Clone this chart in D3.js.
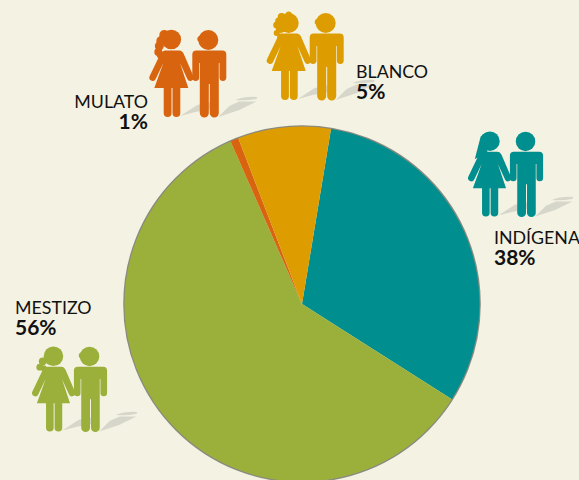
<!DOCTYPE html>
<html><head><meta charset="utf-8">
<script src="https://cdn.jsdelivr.net/npm/d3@7"></script>
<style>html,body{margin:0;padding:0;background:#f4f2e2;overflow:hidden}svg{display:block}text{font-family:Lato,"Open Sans",sans-serif;fill:#111}</style>
</head><body><svg id="c" width="579" height="480"></svg>
<script>
const categories = ["INDÍGENA","MESTIZO","MULATO","BLANCO"];
const sliceShares = [31.4,59.4,0.75,8.45];
const labelPercents = ["38%","56%","1%","5%"];
const colors = ["#008f8e","#9ab03a","#d96410","#dd9c00"];
const startDeg = 9.4;
const labelX = [494,15,148,356];
const labelY = [244,314,108,78];
const labelAnchor = ["start","start","end","start"];
const coupleX = [526.5,90.5,209.3,326.7];
const coupleY = [131.7,346.7,30,13];
const coupleScale = [0.975,0.975,1,1];
const hairStyle = ["long","pony","curly","wild"];

const svg = d3.select("#c");
const W=579,H=480;
svg.append("rect").attr("width",W).attr("height",H).attr("fill","#f4f2e2");

const pie = d3.pie().sort(null).value(d=>d)
  .startAngle(startDeg*Math.PI/180).endAngle((startDeg+360)*Math.PI/180);
const arc = d3.arc().innerRadius(0).outerRadius(177.5);
const g = svg.append("g").attr("transform","translate(302,304)");
g.append("circle").attr("r",177.8).attr("fill","none").attr("stroke","#8a8a80").attr("stroke-width",2);
g.selectAll("path").data(pie(sliceShares)).join("path").attr("d",arc).attr("fill",(d,i)=>colors[i]);

const manPath="M-13,20.5H13Q17,20.5 17,24.5V47.5A3.4,3.4 0 0 1 10.2,47.5V33H9.5V83A4.5,4.5 0 0 1 0.5,83V54H-0.5V83A4.5,4.5 0 0 1 -9.5,83V33H-10.2V47.5A3.4,3.4 0 0 1 -17,47.5V24.5Q-17,20.5 -13,20.5Z";
const womanPath="M-44,20.5H-30Q-27,20.5 -25.5,24L-16,46A3.3,3.3 0 0 1 -22,49L-29.3,33L-21,58H-29V83A3.9,3.9 0 0 1 -36.8,83V58H-37.8V83A3.9,3.9 0 0 1 -45.6,83V58H-55L-46,33L-53.6,49A3.3,3.3 0 0 1 -59.6,46L-49,24Q-47,20.5 -44,20.5Z";
const hair={
 long:[[-37.5,9.7,10]],
 pony:[[-38,9.8,10],[-49,15,4],[-52,21,3.5],[-48,22,3]],
 curly:[[-38,9.5,9.8],[-45,5,5],[-48,11,5],[-50,16,4.5],[-51,22,4],[-49,25,3.5]],
 wild:[[-38,10,10],[-45,4,4],[-48,8,3.5],[-50,12,3.5],[-46,15,5],[-50,20,3],[-46,24,3.5],[-38,1.5,3]]
};
const hairDrape={long:"M-42,1L-47,5L-53,28L-40,22Z",pony:"",curly:"",wild:""};

categories.forEach((c,i)=>{
  const p=svg.append("g").attr("transform",`translate(${coupleX[i]},${coupleY[i]}) scale(${coupleScale[i]})`);
  p.append("path").attr("d","M-29,86L-12,75L8,71L8,78L-14,82Z").attr("fill","#d6d6ca");
  p.append("path").attr("d","M9,87L20,76L30,71.5L47,71.5L30,80Z").attr("fill","#d6d6ca");
  p.append("path").attr("d","M26,70Q36,66 48,67L47,69Q36,71 26,70Z").attr("fill","#d6d6ca");
  p.append("path").attr("d",manPath).attr("fill",colors[i]);
  p.append("circle").attr("cx",-1).attr("cy",10).attr("r",10).attr("fill",colors[i]);
  if(i>=1) p.append("circle").attr("cx",-9).attr("cy",9).attr("r",3).attr("fill",colors[i]);
  p.append("path").attr("d",womanPath).attr("fill",colors[i]);
  p.append("path").attr("d",hairDrape[hairStyle[i]]).attr("fill",colors[i]);
  p.selectAll("circle.h").data(hair[hairStyle[i]]).join("circle").attr("class","h")
    .attr("cx",d=>d[0]).attr("cy",d=>d[1]).attr("r",d=>d[2]).attr("fill",colors[i]);
  svg.append("text").attr("x",labelX[i]).attr("y",labelY[i]).attr("text-anchor",labelAnchor[i])
    .attr("font-size",17.8).text(c);
  svg.append("text").attr("x",labelX[i]).attr("y",labelY[i]+21).attr("text-anchor",labelAnchor[i])
    .attr("font-size",21).attr("font-weight",700).text(labelPercents[i]);
});
</script></body></html>
